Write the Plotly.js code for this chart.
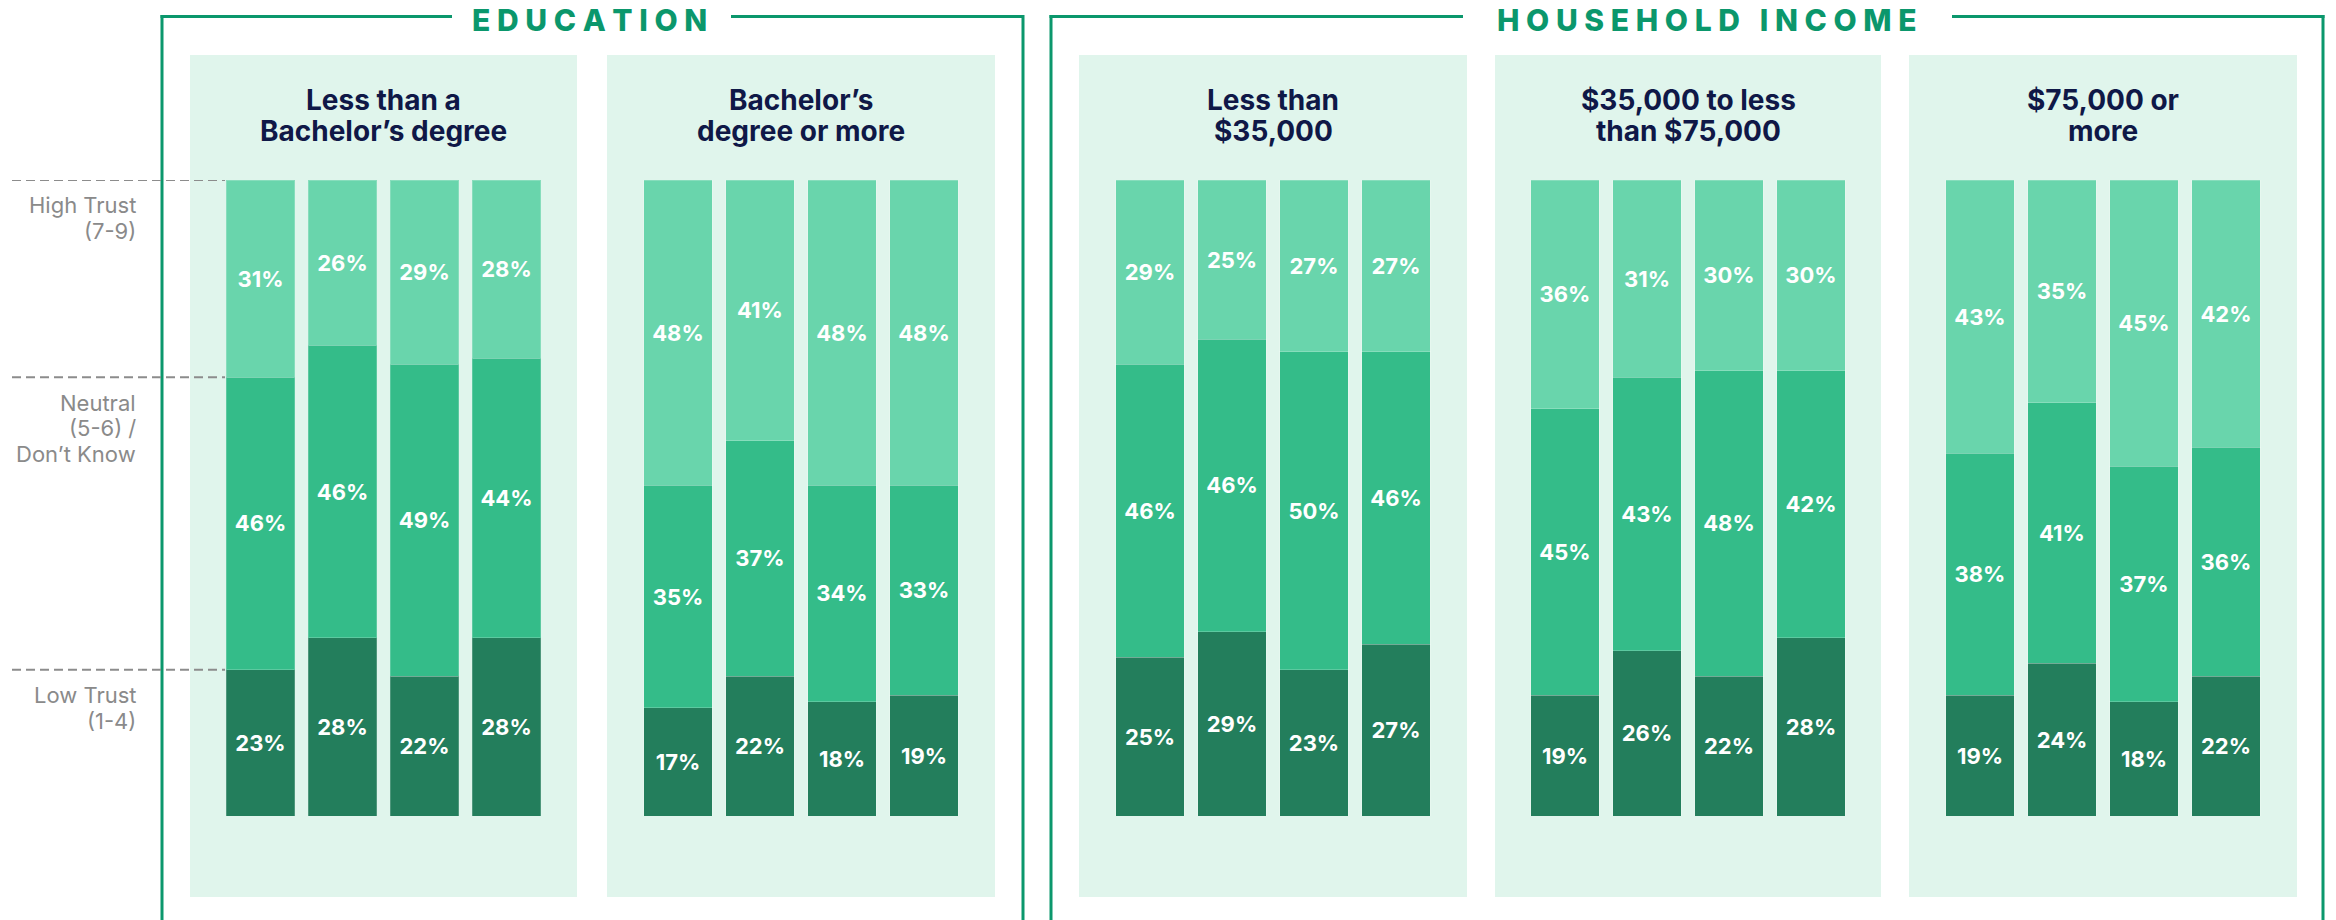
<!DOCTYPE html>
<html><head><meta charset="utf-8">
<script src="https://cdn.plot.ly/plotly-3.0.1.min.js"></script>
<style>html,body{margin:0;padding:0;background:#fff;}</style>
</head><body>
<div id="chart" style="width:2336px;height:920px"></div>
<script>
// ---------- data ----------
const years = ['2020', '2021', '2022', '2023'];
const groupTitles = [['Less than a', 'Bachelor’s degree'], ['Bachelor’s', 'degree or more'], ['Less than', '$35,000'], ['$35,000 to less', 'than $75,000'], ['$75,000 or', 'more']];
const sectionTitles = ['EDUCATION', 'HOUSEHOLD INCOME'];
const seriesNames = ['Low Trust (1-4)', 'Neutral (5-6) / Don’t Know', 'High Trust (7-9)'];
const lowTrust  = [[23, 28, 22, 28], [17, 22, 18, 19], [25, 29, 23, 27], [19, 26, 22, 28], [19, 24, 18, 22]];
const neutral   = [[46, 46, 49, 44], [35, 37, 34, 33], [46, 46, 50, 46], [45, 43, 48, 42], [38, 41, 37, 36]];
const highTrust = [[31, 26, 29, 28], [48, 41, 48, 48], [29, 25, 27, 27], [36, 31, 30, 30], [43, 35, 45, 42]];
const sideLabels = [['High Trust', '(7-9)'], ['Neutral', '(5-6) /', 'Don’t Know'], ['Low Trust', '(1-4)']];

// ---------- layout helpers ----------
const W = 2336, H = 920;
const px = x => x / W;
const py = y => 1 - y / H;
const colors = ['#237e5c', '#34bc89', '#69d5ac'];
const panelBg = '#e0f5ec';
const frameColor = '#0b976c';
const navy = '#0f1847';
const FONT = 'Inter, "Noto Sans", sans-serif';
const panels = [[190, 577], [607, 995], [1079, 1467], [1495, 1881], [1909, 2297]];
const pitch = 82;
const barTop = 180, barBottom = 816;

const seriesData = [lowTrust, neutral, highTrust];
const traces = [];
const layout = {
  width: W, height: H,
  margin: {l: 0, r: 0, t: 0, b: 0},
  paper_bgcolor: '#fff', plot_bgcolor: 'rgba(0,0,0,0)',
  barmode: 'stack', bargap: 0.16,
  showlegend: false,
  hovermode: false,
  font: {family: FONT},
  yaxis: {domain: [py(barBottom), py(barTop)], range: [0, 100], visible: false, fixedrange: true},
  shapes: [], annotations: []
};

panels.forEach((p, i) => {
  const ax = i === 0 ? 'x' : 'x' + (i + 1);
  const axKey = i === 0 ? 'xaxis' : 'xaxis' + (i + 1);
  const half = (p[1] - p[0]) / 2 / pitch;
  layout[axKey] = {
    domain: [px(p[0]), px(p[1])], range: [1.5 - half, 1.5 + half],
    type: 'category', visible: false, fixedrange: true, anchor: 'y'
  };
  seriesData.forEach((s, k) => {
    traces.push({
      type: 'bar', x: years, y: s[i], xaxis: ax, yaxis: 'y', name: seriesNames[k],
      marker: {color: colors[k], line: {width: 1, color: 'rgba(255,255,255,0.2)'}},
      texttemplate: '%{y}%', textposition: 'inside', insidetextanchor: 'middle',
      textangle: 0, constraintext: 'none',
      textfont: {color: '#ffffff', size: 22, family: FONT, weight: 700},
      hoverinfo: 'skip'
    });
  });
  // panel background
  layout.shapes.push({type: 'rect', xref: 'paper', yref: 'paper', layer: 'below',
    x0: px(p[0]), x1: px(p[1]), y0: py(897), y1: py(55), fillcolor: panelBg, line: {width: 0}});
  // panel title (one annotation per line)
  groupTitles[i].forEach((t, j) => {
    layout.annotations.push({xref: 'paper', yref: 'paper', x: px((p[0] + p[1]) / 2), y: py(100 + j * 31.5),
      xanchor: 'center', yanchor: 'middle', showarrow: false, text: t,
      font: {family: FONT, size: 28, color: navy, weight: 700}});
  });
  // year labels
  years.forEach(yr => {
    layout.annotations.push({xref: ax, yref: 'paper', x: yr, y: py(855),
      xanchor: 'center', yanchor: 'middle', showarrow: false, text: yr,
      font: {family: FONT, size: 22, color: navy, weight: 700}});
  });
});

// frames
function hline(x0, x1, y) {
  layout.shapes.push({type: 'line', xref: 'paper', yref: 'paper', x0: px(x0), x1: px(x1), y0: py(y), y1: py(y), line: {color: frameColor, width: 3}});
}
function vline(x, y0, y1) {
  layout.shapes.push({type: 'line', xref: 'paper', yref: 'paper', x0: px(x), x1: px(x), y0: py(y0), y1: py(y1), line: {color: frameColor, width: 3}});
}
// Education frame
hline(160.5, 452, 16.5); hline(731, 1024, 16.5);
vline(162, 15, 925); vline(1023, 15, 925);
// Household frame
hline(1049.5, 1463, 16.5); hline(1952, 2324.5, 16.5);
vline(1051, 15, 925); vline(2323, 15, 925);

const spaced = s => s.split('').join('\u2009\u200A');
layout.annotations.push({xref: 'paper', yref: 'paper', x: px(589), y: py(20), xanchor: 'center', yanchor: 'middle',
  showarrow: false, text: spaced(sectionTitles[0]), font: {family: FONT, size: 30, color: frameColor, weight: 800}});
layout.annotations.push({xref: 'paper', yref: 'paper', x: px(1707), y: py(20), xanchor: 'center', yanchor: 'middle',
  showarrow: false, text: spaced(sectionTitles[1]), font: {family: FONT, size: 30, color: frameColor, weight: 800}});

// dashed guide lines at boundaries of first bar + side labels
const b0 = [100, lowTrust[0][0] + neutral[0][0], lowTrust[0][0]];
b0.forEach((v, k) => {
  layout.shapes.push({type: 'line', xref: 'paper', yref: 'y', x0: px(12), x1: px(225), y0: v, y1: v,
    line: {color: '#8c8c8c', width: 2, dash: '9px,5px'}});
  sideLabels[k].forEach((t, j) => {
    layout.annotations.push({xref: 'paper', yref: 'y', x: px(138), y: v, yshift: -(25.5 + j * 25.5),
      xanchor: 'right', yanchor: 'middle', align: 'right', showarrow: false, text: t,
      font: {family: FONT, size: 22, color: '#8a8a8a'}});
  });
});

Plotly.newPlot('chart', traces, layout, {displayModeBar: false, staticPlot: true});
</script>
</body></html>
